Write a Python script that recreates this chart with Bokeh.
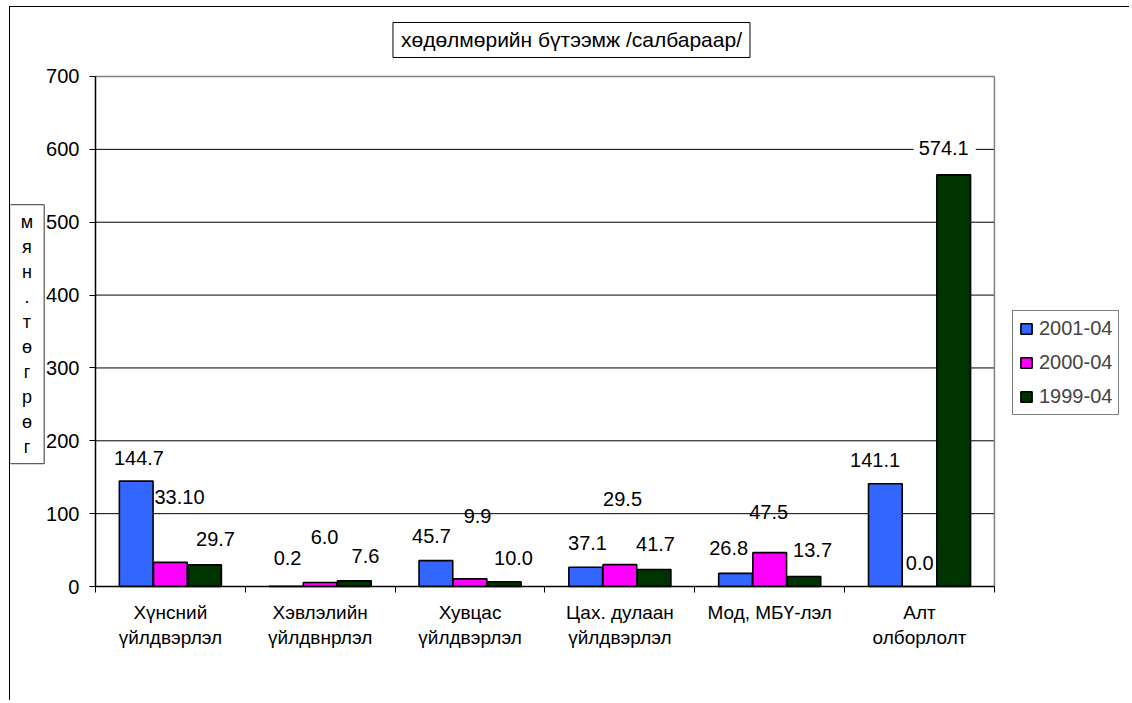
from bokeh.plotting import figure
from bokeh.models import Range1d, FixedTicker, Legend, LegendItem, Label
from bokeh.embed import file_html
from bokeh.resources import INLINE

# ---- data ----
categories = ["Хүнсний\nүйлдвэрлэл", "Хэвлэлийн\nүйлдвнрлэл", "Хувцас\nүйлдвэрлэл",
              "Цах. дулаан\nүйлдвэрлэл", "Мод, МБҮ-лэл", "Алт\nолборлолт"]
series_names = ["2001-04", "2000-04", "1999-04"]
values_2001 = [144.7, 0.2, 35.5, 26.5, 18.0, 141.1]
values_2000 = [33.1, 5.5, 10.5, 30.0, 46.5, 0.0]
values_1999 = [29.7, 7.8, 6.5, 23.3, 13.7, 565.0]
labels_2001 = ["144.7", "0.2", "45.7", "37.1", "26.8", "141.1"]
labels_2000 = ["33.10", "6.0", "9.9", "29.5", "47.5", "0.0"]
labels_1999 = ["29.7", "7.6", "10.0", "41.7", "13.7", "574.1"]
y_ticks = [0, 100, 200, 300, 400, 500, 600, 700]
title_text = "хөдөлмөрийн бүтээмж /салбараар/"
y_title = "мян.төгрөг"

# ---- label placement (manual, as in the original) ----
lab_dx = [[-0.200, -0.218, -0.257, -0.216, -0.274, -0.280],
          [0.061, 0.029, 0.050, 0.018, -0.007, 0.001],
          [0.301, 0.302, 0.290, 0.238, 0.286, 0.168]]
lab_y = [[179.8, 39.8, 70.0, 60.4, 52.2, 177.0],
         [122.2, 67.3, 97.4, 120.8, 101.6, 32.9],
         [65.9, 42.5, 39.8, 59.0, 50.8, 601.2]]
boxed = {(0, 0): dict(left=5, right=8, top=6, bottom=2),
         (0, 5): dict(left=5, right=10, top=6, bottom=2),
         (2, 5): dict(left=5, right=7, top=3, bottom=3)}

colors = ["#3366FF", "#FF00FF", "#003300"]
FONT = "Liberation Sans"
FS = "20px"

n = len(categories)
ymax = y_ticks[-1]
W, H = 1120, 694
p = figure(width=W, height=H, output_backend="svg", toolbar_location=None, title=None,
           x_range=Range1d(-0.567, 6.908), y_range=Range1d(-157.8, 794.7),
           min_border_left=0, min_border_right=0, min_border_top=0, min_border_bottom=0)
p.styles = {"margin-left": "9px", "margin-top": "6px",
            "border-left": "1px solid #000", "border-top": "1px solid #000"}
p.outline_line_color = None
p.background_fill_color = "white"
p.border_fill_color = "white"
p.xgrid.visible = False
p.ygrid.visible = False

# grid lines and plot-area border, bounded to the category span
inner = y_ticks[1:-1]
p.segment(x0=[0] * len(inner), x1=[n] * len(inner), y0=inner, y1=inner,
          line_color="black", line_width=1)
p.segment(x0=[0, n], x1=[n, n], y0=[ymax, 0], y1=[ymax, ymax],
          line_color="#808080", line_width=1.5)

yax = p.yaxis[0]
yax.fixed_location = 0
yax.bounds = (0, ymax)
yax.ticker = FixedTicker(ticks=y_ticks)
yax.axis_line_color = "black"
yax.axis_line_width = 1.5
yax.major_tick_out = 6
yax.major_tick_in = 0
yax.minor_tick_out = 0
yax.minor_tick_in = 0
yax.major_label_text_font = FONT
yax.major_label_text_font_size = FS
yax.major_label_text_color = "black"
yax.major_label_standoff = 10

centers = [i + 0.5 for i in range(n)]
bounds = [float(i) for i in range(n + 1)]
xax = p.xaxis[0]
xax.fixed_location = 0
xax.bounds = (0, n)
xax.ticker = FixedTicker(ticks=centers, minor_ticks=bounds)
xax.major_label_overrides = {c: cat for c, cat in zip(centers, categories)}
xax.axis_line_color = "black"
xax.axis_line_width = 1.5
xax.major_tick_out = 0
xax.major_tick_in = 0
xax.minor_tick_out = 6
xax.minor_tick_in = 0
xax.minor_tick_line_color = "black"
xax.major_label_text_font = FONT
xax.major_label_text_font_size = "19px"
xax.major_label_text_color = "black"
xax.major_label_standoff = 9
xax.major_label_text_line_height = 1.2

bar_w = 0.225
offsets = [-0.228, 0.0, 0.228]
all_vals = [values_2001, values_2000, values_1999]
all_labs = [labels_2001, labels_2000, labels_1999]
renderers = []
for s in range(3):
    xs = [c + offsets[s] for c in centers]
    r = p.vbar(x=xs, top=all_vals[s], width=bar_w, bottom=0,
               fill_color=colors[s], line_color="black", line_width=1.6)
    renderers.append(r)
    for i in range(n):
        kw = {}
        if (s, i) in boxed:
            kw = dict(background_fill_color="white", padding=boxed[(s, i)])
        p.add_layout(Label(x=centers[i] + lab_dx[s][i], y=lab_y[s][i], text=all_labs[s][i],
                           text_align="center", text_baseline="middle",
                           text_font=FONT, text_font_size=FS, text_color="black", **kw))

legend = Legend(items=[LegendItem(label=series_names[s], renderers=[renderers[s]]) for s in range(3)],
                location=(1002, 286), margin=0, padding=6, spacing=11,
                label_height=20, glyph_height=13, glyph_width=14, label_standoff=6,
                label_text_font=FONT, label_text_font_size=FS,
                border_line_color="black", border_line_width=1,
                background_fill_color="white")
p.add_layout(legend, "center")

# chart title in a box
p.add_layout(Label(x=3.177, y=750.1, text=title_text, text_align="center", text_baseline="middle",
                   text_font=FONT, text_font_size="21px", text_color="black",
                   border_line_color="black", border_line_width=1,
                   background_fill_color="white",
                   padding=dict(left=8, right=8, top=6, bottom=6)))

# vertical axis title, letter by letter, in a box
p.add_layout(Label(x=-0.457, y=346.3, text="\n".join(list(y_title)),
                   text_align="center", text_baseline="middle",
                   text_font=FONT, text_font_size="18px", text_color="black",
                   text_line_height=1.25,
                   border_line_color="#333333", border_line_width=1,
                   background_fill_color="white",
                   padding=dict(left=11, right=11, top=7, bottom=7)))

open("out.html", "w").write(file_html(p, INLINE))
